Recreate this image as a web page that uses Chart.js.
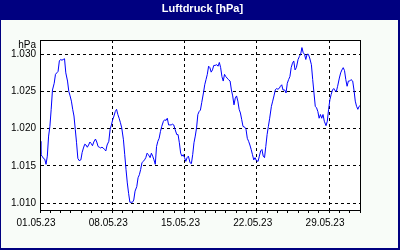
<!DOCTYPE html>
<html>
<head>
<meta charset="utf-8">
<script src="https://cdn.jsdelivr.net/npm/chart.js@4/dist/chart.umd.min.js"></script>
<style>
html, body { margin: 0; padding: 0; background: #f8fcf8; }
</style>
</head>
<body>
<canvas id="chart" width="400" height="250"></canvas>
<script>
// hours since 01.05.23 00:00
const hours = [
  0, 2, 5, 8, 11, 14, 17, 20, 23, 26, 29, 33, 36, 39, 42, 45, 48, 51, 54, 57,
  60, 64, 67, 70, 73, 76, 79, 82, 85, 88, 91, 95, 98, 101, 104, 107, 110, 113, 116, 119,
  122, 125, 129, 132, 135, 138, 141, 144, 147, 150, 153, 156, 160, 163, 166, 169, 172, 175, 178, 181,
  184, 187, 190, 194, 197, 200, 203, 206, 209, 212, 215, 218, 221, 225, 228, 231, 234, 237, 240, 243,
  246, 249, 252, 256, 259, 262, 265, 268, 271, 274, 277, 280, 283, 287, 290, 293, 296, 299, 302, 305,
  308, 311, 314, 318, 321, 324, 327, 330, 333, 336, 339, 342, 345, 349, 352, 355, 358, 361, 364, 367, 370,
  373, 376, 380, 383, 386, 389, 392, 395, 398, 401, 404, 407, 411, 414, 417, 420, 423, 426, 429, 432,
  435, 438, 442, 445, 448, 451, 454, 457, 460, 463, 466, 469, 472, 476, 479, 482, 485, 488, 491, 494,
  497, 500, 503, 507, 510, 513, 516, 519, 522, 525, 528, 531, 534, 538, 541, 544, 547, 550, 553,
  556, 559, 562, 565, 569, 572, 575, 578, 581, 584, 587, 590, 593, 596, 600, 603, 606, 609, 612, 615,
  618, 621, 624, 627, 631, 634, 637, 640, 643, 646, 649, 652, 655, 658, 661, 665, 668, 671, 674, 677,
  680, 683, 686, 689, 692, 696, 699, 702, 705, 708, 711, 714, 717, 720, 723, 727, 730, 733, 736, 739, 742, 744
];
const pressure = [
  1018.3, 1016.5, 1016.3, 1016.0, 1015.9, 1015.2, 1016.3, 1019.0, 1020.3, 1022.6, 1025.2, 1026.1, 1027.3, 1027.5, 1027.7, 1029.1, 1029.3, 1029.2, 1029.3, 1029.4,
  1027.5, 1026.4, 1025.0, 1024.4, 1023.7, 1022.6, 1021.7, 1019.9, 1018.1, 1016.0, 1015.7, 1015.8, 1016.8, 1017.4, 1017.9, 1017.8, 1017.5, 1017.8, 1018.2, 1018.0,
  1017.7, 1018.2, 1018.6, 1018.2, 1017.6, 1017.5, 1017.4, 1017.5, 1017.4, 1017.2, 1017.0, 1017.8, 1018.3, 1019.9, 1020.5, 1021.2, 1021.7, 1022.3, 1022.6, 1021.9,
  1021.4, 1020.8, 1020.1, 1018.5, 1016.5, 1014.5, 1012.7, 1011.3, 1010.1, 1010.1, 1010.1, 1010.4, 1011.6, 1012.2, 1013.4, 1013.8, 1014.5, 1015.4, 1015.6, 1015.8,
  1016.1, 1016.7, 1016.5, 1016.1, 1016.7, 1016.3, 1015.8, 1015.2, 1017.6, 1018.3, 1018.7, 1019.6, 1020.3, 1021.0, 1021.2, 1021.1, 1021.4, 1020.5, 1020.5, 1020.5,
  1020.6, 1020.5, 1019.9, 1019.2, 1019.2, 1018.1, 1016.7, 1016.3, 1016.5, 1016.1, 1015.6, 1016.1, 1016.3, 1015.4, 1015.3, 1016.5, 1018.1, 1019.0, 1020.1, 1021.9, 1022.3,
  1022.5, 1023.5, 1024.8, 1025.9, 1026.6, 1027.3, 1028.4, 1028.2, 1027.6, 1027.9, 1028.5, 1028.5, 1028.6, 1028.4, 1028.9, 1028.2, 1027.0, 1026.4, 1027.3, 1027.0,
  1026.8, 1026.6, 1026.4, 1025.2, 1024.4, 1023.2, 1024.1, 1024.4, 1023.7, 1022.6, 1022.1, 1021.2, 1020.3, 1020.2, 1019.9, 1018.7, 1018.3, 1017.8, 1017.2, 1016.5,
  1015.8, 1016.1, 1015.7, 1015.6, 1016.3, 1017.0, 1017.2, 1016.3, 1016.1, 1017.6, 1019.2, 1020.3, 1021.4, 1023.0, 1023.7, 1024.4, 1025.2, 1025.4, 1025.3,
  1025.4, 1025.7, 1025.9, 1025.2, 1025.2, 1024.8, 1026.1, 1026.6, 1027.0, 1028.2, 1028.8, 1029.1, 1027.9, 1028.2, 1029.3, 1029.7, 1030.0, 1030.9, 1030.2, 1030.0,
  1029.3, 1030.0, 1030.0, 1029.5, 1028.6, 1026.6, 1024.8, 1023.0, 1022.8, 1022.3, 1021.4, 1021.9, 1021.4, 1021.9, 1021.0, 1020.4, 1021.0, 1022.6, 1023.9, 1024.6,
  1025.2, 1025.4, 1025.1, 1025.0, 1025.7, 1026.8, 1027.5, 1027.9, 1028.2, 1027.8, 1026.6, 1025.7, 1026.4, 1026.4, 1026.6, 1026.4, 1025.2, 1023.7, 1023.0, 1022.6, 1023.0, 1023.1
];
const yTicks = [1010, 1015, 1020, 1025, 1030];
const xTickHours = [0, 168, 336, 504, 672];
const xTickLabels = ['01.05.23', '08.05.23', '15.05.23', '22.05.23', '29.05.23'];
const titleText = 'Luftdruck [hPa]';

Chart.defaults.font.family = '"Liberation Sans", Arial, sans-serif';

const frame = {
  id: 'frame',
  beforeDraw(chart) {
    const c = chart.ctx;
    const a = chart.chartArea;
    c.save();
    c.fillStyle = '#000080';
    c.fillRect(0, 0, chart.width, chart.height);
    c.fillStyle = '#f8fcf8';
    c.fillRect(1, 20, chart.width - 3, chart.height - 22);
    c.fillStyle = '#ffffff';
    c.fillRect(a.left, a.top, a.right - a.left, a.bottom - a.top);
    c.restore();
  },
  afterDraw(chart) {
    const c = chart.ctx;
    const a = chart.chartArea;
    c.save();
    c.strokeStyle = '#000';
    c.lineWidth = 1;
    c.strokeRect(Math.round(a.left) + 0.5, Math.round(a.top) + 0.5,
      Math.round(a.right - a.left), Math.round(a.bottom - a.top));
    c.fillStyle = '#000';
    c.font = '10px "Liberation Sans"';
    c.textAlign = 'right';
    c.textBaseline = 'middle';
    c.fillText('hPa', a.left - 4, a.top + 5);
    // title in the navy band
    c.fillStyle = '#ffffff';
    c.font = 'bold 11px "Liberation Sans"';
    c.textAlign = 'center';
    c.fillText(titleText, 202.5, 9);
    c.restore();
  }
};

const ctx = document.getElementById('chart').getContext('2d');
new Chart(ctx, {
  type: 'line',
  data: {
    datasets: [{
      data: hours.map((h, i) => ({ x: h, y: pressure[i] })),
      borderColor: '#0000ff',
      borderWidth: 1,
      pointRadius: 0,
      tension: 0,
      fill: false
    }]
  },
  options: {
    responsive: false,
    animation: false,
    layout: { padding: { left: 0, right: 40, top: 40, bottom: 0 } },
    plugins: {
      legend: { display: false },
      tooltip: { enabled: false },
      title: { display: false }
    },
    scales: {
      x: {
        type: 'linear',
        min: 0,
        max: 744,
        afterBuildTicks: s => {
          const t = [];
          for (let h = 0; h <= 744; h += 24) t.push({ value: h });
          s.ticks = t;
        },
        afterFit: s => { s.height = 40; },
        grid: {
          color: c => xTickHours.includes(c.tick.value) ? '#000' : 'rgba(0,0,0,0)',
          tickColor: '#000',
          tickLength: 3,
          lineWidth: 1
        },
        border: { display: true, color: '#000', dash: [3, 3] },
        ticks: {
          autoSkip: false,
          maxRotation: 0,
          padding: 4,
          labelOffset: -4,
          color: '#000',
          font: { size: 10 },
          callback: v => {
            const i = xTickHours.indexOf(v);
            return i >= 0 ? xTickLabels[i] : '';
          }
        }
      },
      y: {
        min: 1009.06,
        max: 1031.92,
        afterBuildTicks: s => { s.ticks = yTicks.map(v => ({ value: v })); },
        afterFit: s => { s.width = 40; },
        grid: { color: '#000', lineWidth: 1, drawTicks: false },
        border: { display: true, color: '#000', dash: [3, 3] },
        ticks: {
          padding: 4,
          color: '#000',
          font: { size: 10 },
          callback: v => (v / 1000).toFixed(3)
        }
      }
    }
  },
  plugins: [frame]
});
</script>
</body>
</html>
